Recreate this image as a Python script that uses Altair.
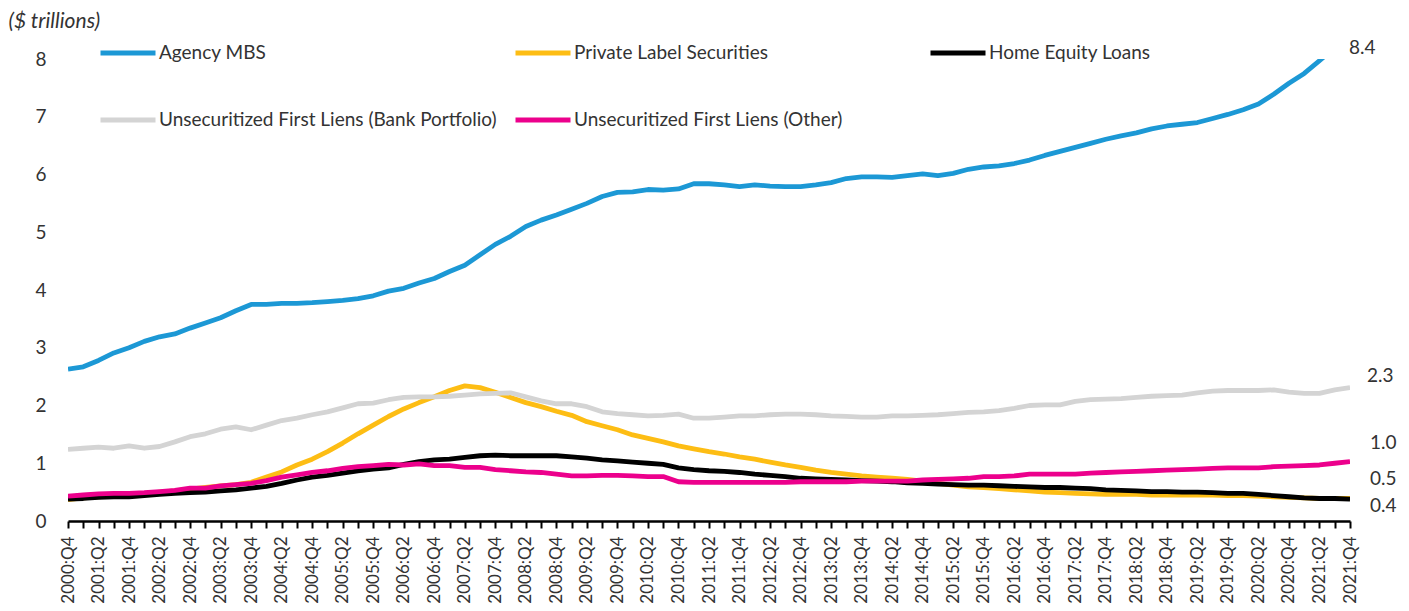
import altair as alt
import pandas as pd

# quarter categories 2000:Q4 .. 2021:Q4
quarters = ["2000:Q4"] + [f"{y}:Q{q}" for y in range(2001, 2022) for q in range(1, 5)]

series_names = [
    "Agency MBS",
    "Private Label Securities",
    "Home Equity Loans",
    "Unsecuritized First Liens (Bank Portfolio)",
    "Unsecuritized First Liens (Other)",
]
series_colors = ["#1C98D5", "#FDBD14", "#000000", "#D4D4D4", "#EC008C"]

agency_mbs = [
    2.63, 2.67, 2.78, 2.91, 3.00, 3.11, 3.19, 3.24, 3.34, 3.43,
    3.52, 3.64, 3.75, 3.75, 3.77, 3.77, 3.78, 3.80, 3.82, 3.85,
    3.90, 3.98, 4.03, 4.12, 4.20, 4.32, 4.43, 4.61, 4.79, 4.93,
    5.10, 5.21, 5.30, 5.40, 5.50, 5.62, 5.69, 5.70, 5.74, 5.73,
    5.75, 5.84, 5.84, 5.82, 5.79, 5.82, 5.80, 5.79, 5.79, 5.82,
    5.86, 5.93, 5.96, 5.96, 5.95, 5.98, 6.01, 5.98, 6.02, 6.09,
    6.13, 6.15, 6.19, 6.25, 6.33, 6.40, 6.47, 6.54, 6.61, 6.67,
    6.72, 6.79, 6.84, 6.87, 6.90, 6.97, 7.04, 7.12, 7.22, 7.39,
    7.58, 7.75, 7.97, 8.20, 8.40,
]
private_label = [
    0.37, 0.40, 0.42, 0.44, 0.45, 0.47, 0.50, 0.52, 0.55, 0.58,
    0.61, 0.63, 0.67, 0.76, 0.85, 0.97, 1.07, 1.20, 1.35, 1.51,
    1.66, 1.81, 1.94, 2.05, 2.15, 2.26, 2.34, 2.31, 2.23, 2.14,
    2.05, 1.98, 1.90, 1.83, 1.72, 1.65, 1.58, 1.49, 1.43, 1.37,
    1.30, 1.25, 1.20, 1.16, 1.11, 1.07, 1.02, 0.97, 0.93, 0.88,
    0.84, 0.81, 0.78, 0.76, 0.74, 0.72, 0.69, 0.65, 0.62, 0.59,
    0.58, 0.56, 0.54, 0.52, 0.50, 0.49, 0.48, 0.47, 0.46, 0.46,
    0.46, 0.45, 0.45, 0.45, 0.45, 0.45, 0.44, 0.44, 0.43, 0.42,
    0.41, 0.40, 0.39, 0.39, 0.39,
]
home_equity = [
    0.38, 0.39, 0.41, 0.42, 0.42, 0.44, 0.46, 0.48, 0.49, 0.50,
    0.52, 0.54, 0.57, 0.60, 0.65, 0.71, 0.76, 0.79, 0.83, 0.87,
    0.90, 0.92, 0.98, 1.03, 1.06, 1.07, 1.10, 1.13, 1.14, 1.13,
    1.13, 1.13, 1.13, 1.11, 1.09, 1.06, 1.04, 1.02, 1.00, 0.98,
    0.92, 0.89, 0.87, 0.86, 0.84, 0.81, 0.79, 0.77, 0.74, 0.73,
    0.72, 0.71, 0.70, 0.69, 0.68, 0.66, 0.65, 0.64, 0.63, 0.62,
    0.62, 0.61, 0.60, 0.59, 0.58, 0.58, 0.57, 0.56, 0.54, 0.53,
    0.52, 0.51, 0.51, 0.50, 0.50, 0.49, 0.48, 0.48, 0.46, 0.44,
    0.42, 0.40, 0.39, 0.39, 0.38,
]
bank_portfolio = [
    1.24, 1.26, 1.28, 1.26, 1.30, 1.26, 1.29, 1.37, 1.46, 1.51,
    1.59, 1.63, 1.58, 1.66, 1.74, 1.78, 1.84, 1.89, 1.96, 2.03,
    2.04, 2.10, 2.14, 2.15, 2.15, 2.16, 2.18, 2.20, 2.21, 2.22,
    2.15, 2.08, 2.03, 2.03, 1.98, 1.89, 1.86, 1.84, 1.82, 1.83,
    1.85, 1.78, 1.78, 1.80, 1.82, 1.82, 1.84, 1.85, 1.85, 1.84,
    1.82, 1.81, 1.80, 1.80, 1.82, 1.82, 1.83, 1.84, 1.86, 1.88,
    1.89, 1.91, 1.95, 2.00, 2.01, 2.01, 2.07, 2.10, 2.11, 2.12,
    2.14, 2.16, 2.17, 2.18, 2.22, 2.25, 2.26, 2.26, 2.26, 2.27,
    2.23, 2.21, 2.21, 2.27, 2.31,
]
other_liens = [
    0.43, 0.45, 0.47, 0.48, 0.48, 0.49, 0.51, 0.53, 0.57, 0.57,
    0.61, 0.63, 0.65, 0.70, 0.76, 0.80, 0.84, 0.87, 0.91, 0.94,
    0.96, 0.98, 0.97, 0.99, 0.96, 0.96, 0.93, 0.93, 0.89, 0.87,
    0.85, 0.84, 0.81, 0.78, 0.78, 0.79, 0.79, 0.78, 0.77, 0.77,
    0.68, 0.67, 0.67, 0.67, 0.67, 0.67, 0.67, 0.67, 0.68, 0.68,
    0.68, 0.68, 0.69, 0.69, 0.69, 0.69, 0.71, 0.72, 0.73, 0.74,
    0.77, 0.77, 0.78, 0.81, 0.81, 0.81, 0.81, 0.83, 0.84, 0.85,
    0.86, 0.87, 0.88, 0.89, 0.90, 0.91, 0.92, 0.92, 0.92, 0.94,
    0.95, 0.96, 0.97, 1.00, 1.03,
]

# end-of-line value labels (text as shown on the chart)
end_label_series = series_names
end_label_text = ["8.4", "0.5", "0.4", "2.3", "1.0"]

FONT = "Lato"
TXT = "#333333"

values = [agency_mbs, private_label, home_equity, bank_portfolio, other_liens]
rows = []
for name, vals in zip(series_names, values):
    for q, v in zip(quarters, vals):
        rows.append({"quarter": q, "series": name, "value": v})
df = pd.DataFrame(rows)

x_enc = alt.X(
    "quarter:O",
    sort=quarters,
    scale=alt.Scale(type="point", padding=0),
    axis=alt.Axis(
        title=None,
        labelAngle=270,
        labelFont=FONT,
        labelFontSize=17,
        labelColor=TXT,
        labelPadding=8,
        labelExpr="(indexof(datum.value, 'Q1') >= 0 || indexof(datum.value, 'Q3') >= 0) ? '' : datum.value",
        labelOverlap=False,
        tickColor="#000000",
        tickWidth=2,
        tickSize=7,
        domainColor="#000000",
        domainWidth=2.5,
        grid=False,
    ),
)

y_enc = alt.Y(
    "value:Q",
    scale=alt.Scale(domain=[0, 8], nice=False),
    axis=alt.Axis(
        title="($ trillions)",
        titleAngle=0,
        titleAlign="left",
        titleBaseline="middle",
        titleX=-60,
        titleY=-38,
        titleFont=FONT,
        titleFontSize=21,
        titleFontStyle="italic",
        titleFontWeight="normal",
        titleColor=TXT,
        values=[0, 1, 2, 3, 4, 5, 6, 7, 8],
        format="d",
        labelFont=FONT,
        labelFontSize=19,
        labelColor=TXT,
        labelPadding=22,
        ticks=False,
        domain=False,
        grid=False,
    ),
)

lines = alt.Chart(df).mark_line(strokeWidth=4.8, clip=True, strokeJoin="round").encode(
    x=x_enc,
    y=y_enc,
    color=alt.Color(
        "series:N",
        scale=alt.Scale(domain=series_names, range=series_colors),
        legend=alt.Legend(
            title=None,
            orient="none",
            legendX=30,
            legendY=-36,
            columns=3,
            direction="horizontal",
            gridAlign="all",
            symbolType="stroke",
            symbolSize=3025,
            symbolStrokeWidth=5,
            symbolOpacity=1,
            labelFont=FONT,
            labelFontSize=19,
            labelColor=TXT,
            labelOffset=1,
            labelLimit=0,
            columnPadding=8,
            rowPadding=27,
            padding=0,
        ),
    ),
)

label_offsets = {
    "Agency MBS": (-1, 12),
    "Private Label Securities": (20, -19),
    "Home Equity Loans": (20, 7),
    "Unsecuritized First Liens (Bank Portfolio)": (17, -12),
    "Unsecuritized First Liens (Other)": (20, -19),
}

layers = [lines]
for name, txt in zip(end_label_series, end_label_text):
    dx, dy = label_offsets[name]
    layers.append(
        alt.Chart(df)
        .transform_filter(
            (alt.datum.series == name) & (alt.datum.quarter == quarters[-1])
        )
        .mark_text(
            align="left", baseline="middle", dx=dx, dy=dy,
            font=FONT, fontSize=19, color=TXT, text=txt,
        )
        .encode(x=alt.X("quarter:O", sort=quarters), y=alt.Y("value:Q"))
    )

chart = (
    alt.layer(*layers)
    .properties(
        width=1282,
        height=462,
        autosize=alt.AutoSizeParams(type="none"),
        padding={"left": 60, "top": 51, "right": 51, "bottom": 84},
        background="white",
    )
    .configure_view(stroke=None)
)

chart.save("out.html", embed_options={"renderer": "svg", "actions": False})
